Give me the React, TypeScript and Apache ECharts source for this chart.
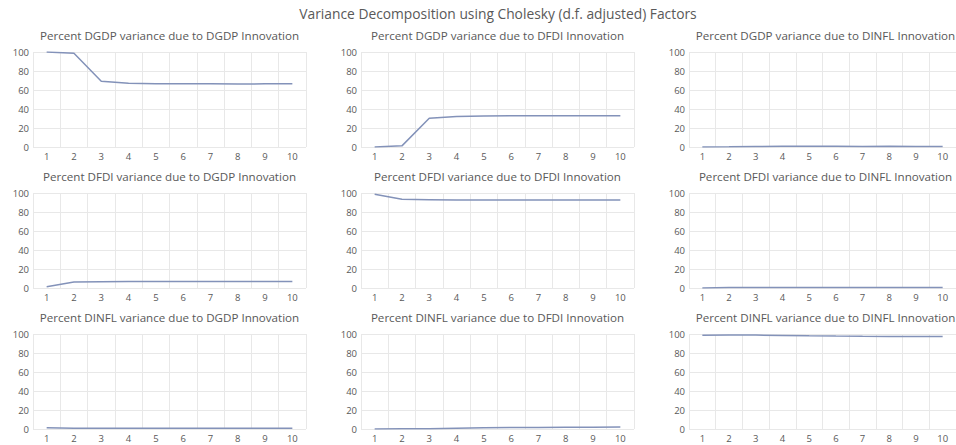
import React, { useEffect, useRef } from "react";
import * as echarts from "echarts";

const periods = ["1", "2", "3", "4", "5", "6", "7", "8", "9", "10"];

const dgdpByDgdp = [100, 98.6, 69.2, 67.2, 66.6, 66.5, 66.5, 66.3, 66.5, 66.5];
const dgdpByDfdi = [0, 1.2, 30.3, 32.1, 32.6, 32.8, 32.9, 33.0, 33.0, 33.0];
const dgdpByDinfl = [0, 0.2, 0.5, 0.7, 0.8, 0.7, 0.6, 0.7, 0.5, 0.5];

const dfdiByDgdp = [1.2, 6.2, 6.5, 6.8, 6.9, 6.9, 6.9, 6.9, 6.9, 6.9];
const dfdiByDfdi = [98.8, 93.4, 93.0, 92.6, 92.6, 92.6, 92.6, 92.6, 92.6, 92.6];
const dfdiByDinfl = [0, 0.4, 0.5, 0.6, 0.5, 0.5, 0.5, 0.5, 0.5, 0.5];

const dinflByDgdp = [1.4, 0.8, 0.8, 0.7, 0.7, 0.7, 0.7, 0.7, 0.7, 0.7];
const dinflByDfdi = [0, 0.2, 0.3, 0.8, 1.2, 1.5, 1.7, 1.8, 1.9, 2.0];
const dinflByDinfl = [98.6, 99.0, 98.9, 98.5, 98.1, 97.8, 97.6, 97.5, 97.4, 97.3];

const yTicks = [0, 20, 40, 60, 80, 100];

const mainTitle = "Variance Decomposition using Cholesky (d.f. adjusted) Factors";
const panelTitles = [
  "Percent DGDP variance due to DGDP Innovation",
  "Percent DGDP variance due to DFDI Innovation",
  "Percent DGDP variance due to DINFL Innovation",
  "Percent DFDI variance due to DGDP Innovation",
  "Percent DFDI variance due to DFDI Innovation",
  "Percent DFDI variance due to DINFL Innovation",
  "Percent DINFL variance due to DGDP Innovation",
  "Percent DINFL variance due to DFDI Innovation",
  "Percent DINFL variance due to DINFL Innovation",
];
const panelData = [
  dgdpByDgdp, dgdpByDfdi, dgdpByDinfl,
  dfdiByDgdp, dfdiByDfdi, dfdiByDinfl,
  dinflByDgdp, dinflByDfdi, dinflByDinfl,
];

const colLeft = [33, 361, 689];
const rowTop = [52, 193, 334];
const gridW = 273;
const gridH = 95;
const FONT = "Open Sans";
const TEXT = "#595959";

export default function App() {
  const ref = useRef<HTMLDivElement>(null);
  useEffect(() => {
    if (!ref.current) return;
    const chart = echarts.init(ref.current, undefined, { renderer: "svg" });
    const grids: any[] = [];
    const xAxes: any[] = [];
    const yAxes: any[] = [];
    const series: any[] = [];
    const titles: any[] = [
      {
        text: mainTitle,
        left: 498,
        top: 6,
        textAlign: "center",
        padding: 0,
        textStyle: { fontFamily: FONT, fontSize: 13.8, fontWeight: "normal", color: TEXT },
      },
    ];
    for (let i = 0; i < 9; i++) {
      const r = Math.floor(i / 3);
      const c = i % 3;
      grids.push({ left: colLeft[c], top: rowTop[r], width: gridW, height: gridH });
      titles.push({
        text: panelTitles[i],
        left: colLeft[c] + gridW / 2,
        top: rowTop[r] - 23,
        textAlign: "center",
        padding: 0,
        textStyle: { fontFamily: FONT, fontSize: 11.6, fontWeight: "normal", color: TEXT },
      });
      xAxes.push({
        type: "category",
        gridIndex: i,
        data: periods,
        boundaryGap: true,
        axisLine: { show: false },
        axisTick: { show: false },
        axisLabel: { margin: 4, fontFamily: FONT, fontSize: 9.5, color: TEXT, interval: 0 },
        splitLine: { show: true, interval: 0, lineStyle: { color: "#e8e8e8", width: 1 } },
      });
      yAxes.push({
        type: "value",
        gridIndex: i,
        min: yTicks[0],
        max: yTicks[yTicks.length - 1],
        interval: 20,
        axisLine: { show: false },
        axisTick: { show: false },
        axisLabel: { margin: 4, fontFamily: FONT, fontSize: 9.5, color: TEXT },
        splitLine: { show: true, lineStyle: { color: "#e8e8e8", width: 1 } },
      });
      series.push({
        type: "line",
        xAxisIndex: i,
        yAxisIndex: i,
        data: panelData[i],
        showSymbol: false,
        symbol: "none",
        lineStyle: { color: "#8392b9", width: 1.5 },
      });
    }
    chart.setOption({
      animation: false,
      backgroundColor: "#ffffff",
      title: titles,
      grid: grids,
      xAxis: xAxes,
      yAxis: yAxes,
      series,
    });
    return () => chart.dispose();
  }, []);
  return <div ref={ref} style={{ width: 956, height: 445, position: "absolute", left: 0, top: 0 }} />;
}
